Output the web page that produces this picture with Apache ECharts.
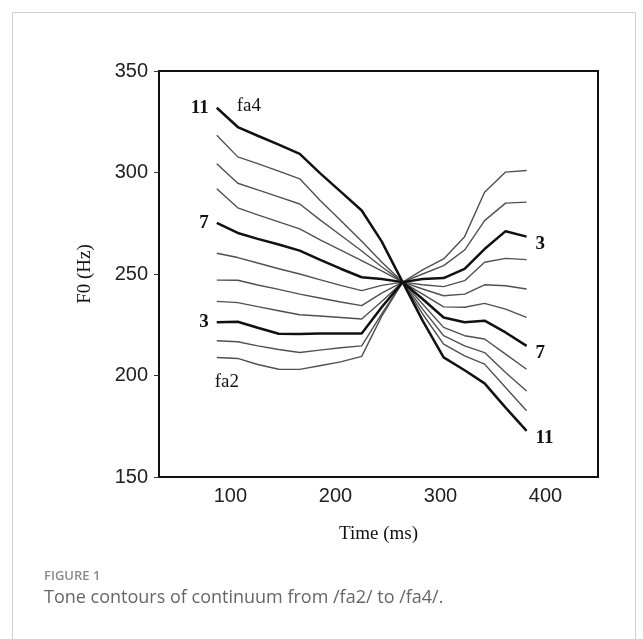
<!DOCTYPE html>
<html style="height: 100%">
<head>
    <meta charset="utf-8">
    <script type="text/javascript" src="https://cdn.jsdelivr.net/npm/echarts@6.0.0/dist/echarts.min.js"></script>
</head>
<body style="height: 100%; margin: 0; background: #fff">
    <div id="toneChart" style="height: 639px; width: 643px;"></div>

    <script type="text/javascript">
        // time points (ms) shared by every contour
        var times = [87, 107, 126, 146, 166, 185, 205, 225, 244, 264, 283, 303, 323, 342, 362, 382];

        // F0 (Hz) of the 11 steps, fa2 (1) -> fa4 (11)
        var step1  = [208.9, 208.4, 205.4, 203.1, 203.0, 204.8, 206.7, 209.4, 229.1, 246, 252.0, 257.4, 268.4, 290.3, 300.2, 301.0];
        var step2  = [217.1, 216.6, 214.6, 212.8, 211.3, 212.5, 213.7, 214.6, 230.3, 246, 250.0, 254.1, 261.8, 276.3, 284.9, 285.4];
        var step3  = [226.2, 226.5, 223.5, 220.6, 220.4, 220.7, 220.7, 220.7, 233.6, 246, 247.5, 248.0, 252.5, 262.3, 271.1, 268.4];
        var step4  = [236.5, 235.9, 233.9, 231.9, 229.9, 229.3, 228.6, 227.8, 236.5, 246, 244.7, 243.8, 246.7, 255.8, 257.7, 257.1];
        var step5  = [247.0, 246.9, 244.6, 242.4, 240.1, 238.2, 236.2, 234.4, 240.6, 246, 242.6, 239.3, 240.1, 244.7, 244.2, 242.6];
        var step6  = [260.2, 258.1, 255.4, 252.6, 250.0, 247.2, 244.4, 241.8, 244.4, 246, 240.1, 233.8, 233.6, 235.5, 232.7, 228.6];
        var step7  = [275.2, 270.2, 267.3, 264.5, 261.5, 257.1, 252.6, 248.4, 247.5, 246, 237.7, 228.6, 226.2, 227.0, 221.2, 214.6];
        var step8  = [292.0, 282.6, 279.1, 275.7, 272.2, 266.9, 261.8, 256.6, 251.5, 246, 235.2, 223.7, 219.6, 218.0, 210.5, 203.1];
        var step9  = [304.3, 294.7, 291.4, 288.0, 284.5, 276.8, 269.1, 261.3, 253.6, 246, 232.7, 219.6, 214.6, 211.3, 201.5, 192.4];
        var step10 = [318.3, 307.7, 304.4, 300.7, 296.9, 286.5, 276.3, 266.1, 255.9, 246, 230.3, 215.5, 209.7, 205.6, 194.1, 182.6];
        var step11 = [331.9, 322.4, 318.1, 313.7, 309.2, 299.8, 290.6, 281.3, 266.1, 246, 227.0, 208.9, 202.6, 196.1, 184.2, 172.7];

        var steps = [step1, step2, step3, step4, step5, step6, step7, step8, step9, step10, step11];
        var boldSteps = [3, 7, 11];   // drawn thick and numbered
        var xTicks = [100, 200, 300, 400];

        var numFont = { fontFamily: 'Liberation Serif', fontWeight: 'bold', fontSize: 19, color: '#111' };
        var nameFont = { fontFamily: 'Liberation Serif', fontSize: 19, color: '#111' };

        var chart = echarts.init(document.getElementById('toneChart'));

        var series = steps.map(function (vals, i) {
            var n = i + 1;
            var bold = boldSteps.indexOf(n) >= 0;
            var data = vals.map(function (v, k) {
                var item = { value: [times[k], v] };
                if (bold && k === 0) {
                    item.label = Object.assign({ show: true, position: 'left', distance: 8, formatter: String(n) }, numFont);
                }
                return item;
            });
            var s = {
                type: 'line',
                data: data,
                symbol: 'circle',
                symbolSize: 0,
                showSymbol: true,
                showAllSymbol: true,
                silent: true,
                z: bold ? 3 : 2,
                lineStyle: { color: bold ? '#111' : '#505050', width: bold ? 2.5 : 1.4 },
                endLabel: bold ? Object.assign({ show: true, distance: 9, offset: [0, 7], formatter: String(n) }, numFont) : undefined
            };
            // fa4 / fa2 tags sit next to the first point of the end steps
            if (n === 11 || n === 1) {
                s.markPoint = {
                    symbol: 'circle',
                    symbolSize: 0,
                    silent: true,
                    data: [{
                        coord: [times[0], vals[0]],
                        label: Object.assign({
                            show: true,
                            position: 'inside',
                            offset: n === 11 ? [32, -2] : [10, 25],
                            formatter: n === 11 ? 'fa4' : 'fa2'
                        }, nameFont)
                    }]
                };
            }
            return s;
        });

        var option = {
            animation: false,
            grid: {
                left: 159, right: 45, top: 71, bottom: 162,
                show: true, borderColor: '#111', borderWidth: 2
            },
            xAxis: {
                type: 'value',
                min: 32, max: 450,
                name: 'Time (ms)',
                nameLocation: 'middle',
                nameGap: 48,
                nameTextStyle: nameFont,
                axisLine: { show: true, lineStyle: { color: '#111', width: 2 } },
                axisTick: { show: false },
                splitLine: { show: false },
                axisLabel: {
                    customValues: xTicks,
                    fontFamily: 'Liberation Sans', fontSize: 20, color: '#222', margin: 9
                }
            },
            yAxis: {
                type: 'value',
                min: 150, max: 350, interval: 50,
                name: 'F0 (Hz)',
                nameLocation: 'middle',
                nameGap: 64,
                nameTextStyle: nameFont,
                axisLine: { show: true, lineStyle: { color: '#111', width: 2 } },
                axisTick: { show: true, length: 5, lineStyle: { color: '#333' } },
                splitLine: { show: false },
                axisLabel: { fontFamily: 'Liberation Sans', fontSize: 20, color: '#222', margin: 11 }
            },
            graphic: [
                {
                    type: 'rect', left: 10, top: 10, silent: true,
                    shape: { width: 623, height: 700 },
                    style: { fill: 'none', stroke: '#cfcfcf', lineWidth: 1 }
                },
                {
                    type: 'text', left: 44, top: 570,
                    style: { text: 'FIGURE 1', fontFamily: 'Open Sans', fontSize: 13, fontWeight: 600, fill: '#8a8a8a' }
                },
                {
                    type: 'text', left: 44, top: 589,
                    style: { text: 'Tone contours of continuum from /fa2/ to /fa4/.', fontFamily: 'Open Sans', fontSize: 18, fill: '#666' }
                }
            ],
            series: series
        };

        chart.setOption(option);
    </script>
</body>
</html>
